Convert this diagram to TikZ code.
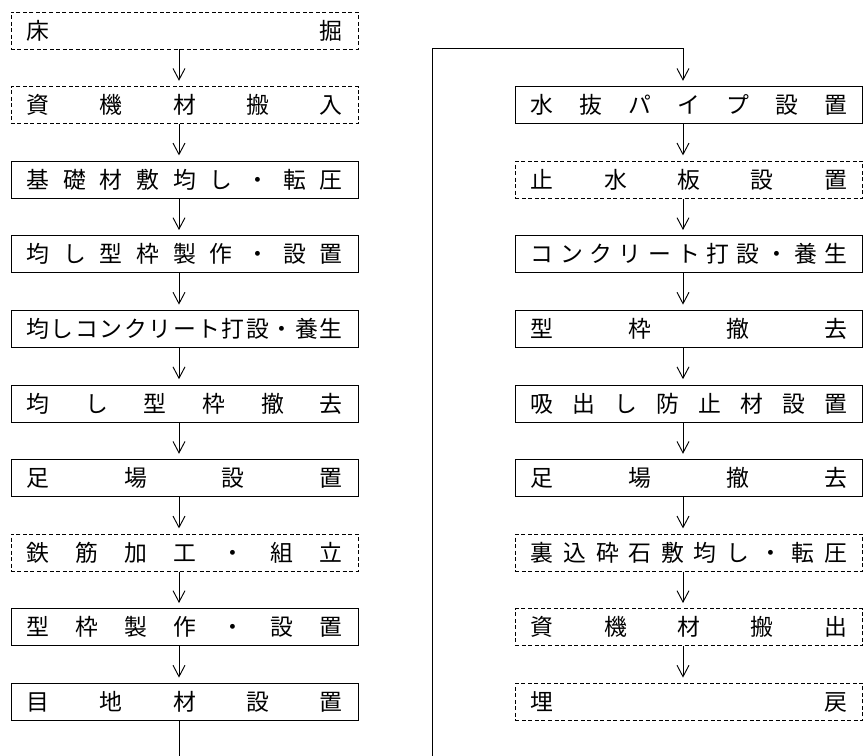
\documentclass[tikz,border=0pt]{standalone}
\usepackage{fontspec}
\newfontfamily\jp{Noto Sans CJK JP}
\usepackage{tikz}
\usetikzlibrary{arrows.meta,positioning}

% spread the characters of a step over the whole box
\makeatletter
\newcommand\spreadtxt[1]{\makebox[9.48cm][s]{\def\spr@gap{}\@tfor\spr@ch:=#1\do{\spr@gap\spr@ch\def\spr@gap{\hfill}}}}
\makeatother

\begin{document}
\begin{tikzpicture}[x=0.03cm, y=-0.03cm,
		box/.style={draw, line width=0.8pt, minimum width=10.41cm, minimum height=1.11cm, inner sep=0pt, font=\jp\fontsize{19.5pt}{21pt}\selectfont},
		dbox/.style={box, dash pattern=on 1.2mm off 0.75mm},
		flow/.style={line width=0.8pt, shorten >=1.6mm, -{Straight Barb[length=3.4mm,width=3.6mm]}}]
		\useasboundingbox (0,0) rectangle (864,756);

		% left column
		\node[dbox] (l1) at (184.5,30.5) {\spreadtxt{床掘}};
		\node[dbox] (l2) at (184.5,105.1) {\spreadtxt{資機材搬入}};
		\node[box] (l3) at (184.5,179.7) {\spreadtxt{基礎材敷均し・転圧}};
		\node[box] (l4) at (184.5,254.3) {\spreadtxt{均し型枠製作・設置}};
		\node[box] (l5) at (184.5,328.9) {\spreadtxt{均しコンクリート打設・養生}};
		\node[box] (l6) at (184.5,403.5) {\spreadtxt{均し型枠撤去}};
		\node[box] (l7) at (184.5,478.1) {\spreadtxt{足場設置}};
		\node[dbox] (l8) at (184.5,552.7) {\spreadtxt{鉄筋加工・組立}};
		\node[box] (l9) at (184.5,627.3) {\spreadtxt{型枠製作・設置}};
		\node[box] (l10) at (184.5,701.9) {\spreadtxt{目地材設置}};

		% right column
		\node[box] (r1) at (689,105.1) {\spreadtxt{水抜パイプ設置}};
		\node[dbox] (r2) at (689,179.7) {\spreadtxt{止水板設置}};
		\node[box] (r3) at (689,254.3) {\spreadtxt{コンクリート打設・養生}};
		\node[box] (r4) at (689,328.9) {\spreadtxt{型枠撤去}};
		\node[box] (r5) at (689,403.5) {\spreadtxt{吸出し防止材設置}};
		\node[box] (r6) at (689,478.1) {\spreadtxt{足場撤去}};
		\node[dbox] (r7) at (689,552.7) {\spreadtxt{裏込砕石敷均し・転圧}};
		\node[dbox] (r8) at (689,627.3) {\spreadtxt{資機材搬出}};
		\node[dbox] (r9) at (689,701.9) {\spreadtxt{埋戻}};

		\coordinate (colL) at (179,0);
		\coordinate (colR) at (683,0);
		\coordinate (endL) at (179,756);
		\coordinate (startR) at (432,756);
		\coordinate (turn) at (432,48);

		\draw[flow] (l1.south -| colL) -- (l2.north -| colL);
		\draw[flow] (l2.south -| colL) -- (l3.north -| colL);
		\draw[flow] (l3.south -| colL) -- (l4.north -| colL);
		\draw[flow] (l4.south -| colL) -- (l5.north -| colL);
		\draw[flow] (l5.south -| colL) -- (l6.north -| colL);
		\draw[flow] (l6.south -| colL) -- (l7.north -| colL);
		\draw[flow] (l7.south -| colL) -- (l8.north -| colL);
		\draw[flow] (l8.south -| colL) -- (l9.north -| colL);
		\draw[flow] (l9.south -| colL) -- (l10.north -| colL);
		\draw[line width=0.8pt] (l10.south -| colL) -- (endL);

		\draw[flow] (startR) -- (turn) -| (r1.north -| colR);
		\draw[flow] (r1.south -| colR) -- (r2.north -| colR);
		\draw[flow] (r2.south -| colR) -- (r3.north -| colR);
		\draw[flow] (r3.south -| colR) -- (r4.north -| colR);
		\draw[flow] (r4.south -| colR) -- (r5.north -| colR);
		\draw[flow] (r5.south -| colR) -- (r6.north -| colR);
		\draw[flow] (r6.south -| colR) -- (r7.north -| colR);
		\draw[flow] (r7.south -| colR) -- (r8.north -| colR);
		\draw[flow] (r8.south -| colR) -- (r9.north -| colR);
	\end{tikzpicture}
\end{document}
